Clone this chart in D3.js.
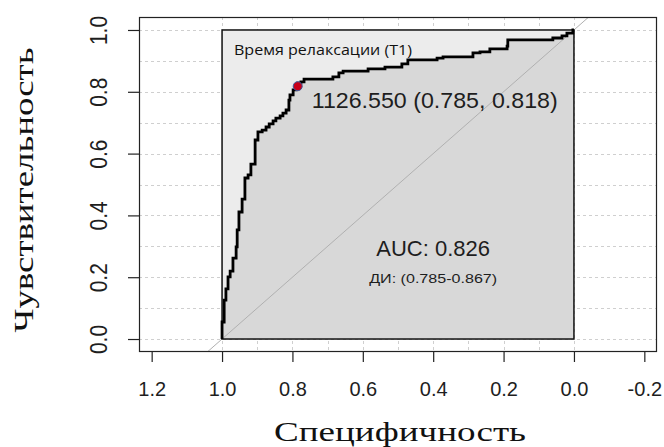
<!DOCTYPE html>
<html>
<head>
<meta charset="utf-8">
<script src="https://cdn.jsdelivr.net/npm/d3@7"></script>
<style>
  html, body { margin: 0; padding: 0; background: #fff; }
  svg { display: block; }
</style>
</head>
<body>
<svg id="chart" width="664" height="447"></svg>
<script>
// ROC curve vertices: specificity (x) and sensitivity (y)
const specificity = [1.000,1.000,0.994,0.994,0.989,0.989,0.983,0.983,0.977,0.974,0.969,0.969,0.960,0.960,0.957,0.957,0.952,0.952,0.943,0.943,0.935,0.935,0.926,0.918,0.918,0.906,0.906,0.898,0.886,0.875,0.866,0.855,0.847,0.835,0.827,0.818,0.810,0.807,0.798,0.790,0.785,0.776,0.767,0.764,0.685,0.685,0.668,0.665,0.656,0.656,0.585,0.585,0.537,0.537,0.489,0.489,0.472,0.472,0.389,0.389,0.372,0.372,0.287,0.287,0.267,0.267,0.239,0.239,0.190,0.188,0.188,0.173,0.060,0.060,0.034,0.034,0.020,0.020,0.003,0.000];
const sensitivity = [0.000,0.055,0.055,0.126,0.126,0.162,0.162,0.191,0.201,0.220,0.220,0.249,0.262,0.298,0.298,0.353,0.353,0.405,0.411,0.447,0.453,0.515,0.521,0.531,0.557,0.566,0.621,0.644,0.670,0.676,0.686,0.696,0.706,0.715,0.722,0.731,0.741,0.773,0.790,0.806,0.818,0.828,0.832,0.841,0.841,0.848,0.848,0.861,0.861,0.867,0.867,0.874,0.874,0.880,0.880,0.887,0.890,0.903,0.903,0.909,0.909,0.913,0.913,0.922,0.926,0.929,0.929,0.939,0.939,0.948,0.964,0.968,0.968,0.974,0.974,0.981,0.981,0.990,0.990,1.000];

// Best threshold
const bestThreshold = "1126.550";
const bestSpec = 0.785;
const bestSens = 0.818;

const aucValue = "0.826";
const ciLow = "0.785";
const ciHigh = "0.867";

const xTicks = [1.2, 1.0, 0.8, 0.6, 0.4, 0.2, 0.0, -0.2];
const yTicks = [0.0, 0.2, 0.4, 0.6, 0.8, 1.0];
const gridValues = d3.range(0, 11).map(d => d / 10);

const plotTitle = "Время релаксации (Т1)";
const xTitle = "Специфичность";
const yTitle = "Чувствительность";

const svg = d3.select("#chart");

const frame = { left: 139, right: 657, top: 17, bottom: 352 };
const x = d3.scaleLinear().domain([1.236, -0.236]).range([frame.left, frame.right]);
const y = d3.scaleLinear().domain([-0.042, 1.042]).range([frame.bottom, frame.top]);

const sansFont = "Liberation Sans, Arial, sans-serif";
const serifFont = "Liberation Serif, Times New Roman, serif";
// plain hyphen for negative numbers
const fmt = d => d3.format(".1f")(d).replace("\u2212", "-");

// Grid
const grid = svg.append("g")
  .attr("stroke", "#cfcfcf")
  .attr("stroke-width", 1)
  .attr("stroke-dasharray", "3,3");
grid.selectAll("line.h").data(gridValues).join("line")
  .attr("class", "h")
  .attr("x1", frame.left).attr("x2", frame.right)
  .attr("y1", d => Math.round(y(d)) + 0.5).attr("y2", d => Math.round(y(d)) + 0.5);
grid.selectAll("line.v").data(gridValues).join("line")
  .attr("class", "v")
  .attr("y1", frame.top).attr("y2", frame.bottom)
  .attr("x1", d => Math.round(x(d)) + 0.5).attr("x2", d => Math.round(x(d)) + 0.5);

// Unit square background
svg.append("rect")
  .attr("x", x(1)).attr("y", y(1))
  .attr("width", x(0) - x(1)).attr("height", y(0) - y(1))
  .attr("fill", "#ececec");

const pts = specificity.map((s, i) => [s, sensitivity[i]]);

// Area under the curve
svg.append("path")
  .datum(pts)
  .attr("fill", "#d8d8d8")
  .attr("d", d3.area()
    .x(d => x(d[0]))
    .y0(y(0))
    .y1(d => y(d[1]))
    .curve(d3.curveStepBefore));

// Chance diagonal, clipped to the frame
svg.append("clipPath").attr("id", "frameClip")
  .append("rect")
  .attr("x", frame.left).attr("y", frame.top)
  .attr("width", frame.right - frame.left).attr("height", frame.bottom - frame.top);
svg.append("line")
  .attr("clip-path", "url(#frameClip)")
  .attr("x1", x(1.3)).attr("y1", y(-0.3))
  .attr("x2", x(-0.3)).attr("y2", y(1.3))
  .attr("stroke", "#b0b0b0")
  .attr("stroke-width", 1);

// Unit square border
svg.append("rect")
  .attr("x", x(1)).attr("y", y(1))
  .attr("width", x(0) - x(1)).attr("height", y(0) - y(1))
  .attr("fill", "none")
  .attr("stroke", "#111")
  .attr("stroke-width", 1.5);

// ROC curve
svg.append("path")
  .datum(pts)
  .attr("fill", "none")
  .attr("stroke", "#000")
  .attr("stroke-width", 2.8)
  .attr("stroke-linejoin", "miter")
  .attr("d", d3.line()
    .x(d => x(d[0]))
    .y(d => y(d[1]))
    .curve(d3.curveStepBefore));

// Best threshold point
svg.append("circle")
  .attr("cx", x(bestSpec)).attr("cy", y(bestSens))
  .attr("r", 4.5)
  .attr("fill", "#c8001a")
  .attr("stroke", "#3b5c9e")
  .attr("stroke-width", 1);

// Frame
svg.append("rect")
  .attr("x", frame.left + 0.5).attr("y", frame.top + 0.5)
  .attr("width", frame.right - frame.left - 1).attr("height", frame.bottom - frame.top - 1)
  .attr("fill", "none")
  .attr("stroke", "#222")
  .attr("stroke-width", 1.2);

// X axis
const xAxis = d3.axisBottom(x)
  .tickValues(xTicks)
  .tickSize(10)
  .tickPadding(6)
  .tickFormat(fmt);
const gx = svg.append("g")
  .attr("transform", `translate(0,${frame.bottom})`)
  .call(xAxis);
gx.select(".domain").remove();
gx.selectAll(".tick line").attr("stroke", "#222").attr("stroke-width", 1.2);
gx.selectAll(".tick text")
  .attr("font-family", sansFont)
  .attr("font-size", 20)
  .attr("fill", "#1e1e1e")
  .attr("dy", null)
  .attr("y", 44);

// Y axis
const yAxis = d3.axisLeft(y)
  .tickValues(yTicks)
  .tickSize(11)
  .tickFormat(fmt);
const gy = svg.append("g")
  .attr("transform", `translate(${frame.left},0)`)
  .call(yAxis);
gy.select(".domain").remove();
gy.selectAll(".tick line").attr("stroke", "#222").attr("stroke-width", 1.2);
gy.selectAll(".tick text")
  .attr("font-family", sansFont)
  .attr("font-size", 21)
  .attr("fill", "#1e1e1e")
  .attr("x", null).attr("dy", null)
  .attr("text-anchor", "middle")
  .attr("transform", "translate(-32,0) rotate(-90) scale(1,1.12)");

// Annotations
svg.append("text")
  .attr("x", 234).attr("y", 55)
  .attr("font-family", "Open Sans, Noto Sans, sans-serif")
  .attr("font-size", 14.5)
  .attr("fill", "#111")
  .attr("textLength", 178).attr("lengthAdjust", "spacingAndGlyphs")
  .text(plotTitle);

svg.append("text")
  .attr("x", x(bestSpec) + 14).attr("y", y(bestSens) + 22)
  .attr("font-family", sansFont)
  .attr("font-size", 22)
  .attr("fill", "#1e1e1e")
  .attr("textLength", 246).attr("lengthAdjust", "spacingAndGlyphs")
  .text(`${bestThreshold} (${bestSpec.toFixed(3)}, ${bestSens.toFixed(3)})`);

svg.append("text")
  .attr("x", x(0.4)).attr("y", y(0.27))
  .attr("text-anchor", "middle")
  .attr("font-family", sansFont)
  .attr("font-size", 22)
  .attr("fill", "#1e1e1e")
  .text(`AUC: ${aucValue}`);

svg.append("text")
  .attr("x", x(0.4)).attr("y", y(0.18))
  .attr("text-anchor", "middle")
  .attr("font-family", sansFont)
  .attr("font-size", 13)
  .attr("fill", "#1e1e1e")
  .attr("textLength", 128).attr("lengthAdjust", "spacingAndGlyphs")
  .text(`ДИ: (${ciLow}-${ciHigh})`);

// Axis titles
svg.append("text")
  .attr("x", 400).attr("y", 441)
  .attr("text-anchor", "middle")
  .attr("font-family", serifFont)
  .attr("font-size", 27)
  .attr("fill", "#111")
  .attr("textLength", 252).attr("lengthAdjust", "spacingAndGlyphs")
  .text(xTitle);

svg.append("text")
  .attr("transform", "translate(33,190) rotate(-90)")
  .attr("text-anchor", "middle")
  .attr("font-family", serifFont)
  .attr("font-size", 28)
  .attr("fill", "#111")
  .attr("textLength", 285).attr("lengthAdjust", "spacingAndGlyphs")
  .text(yTitle);
</script>
</body>
</html>
